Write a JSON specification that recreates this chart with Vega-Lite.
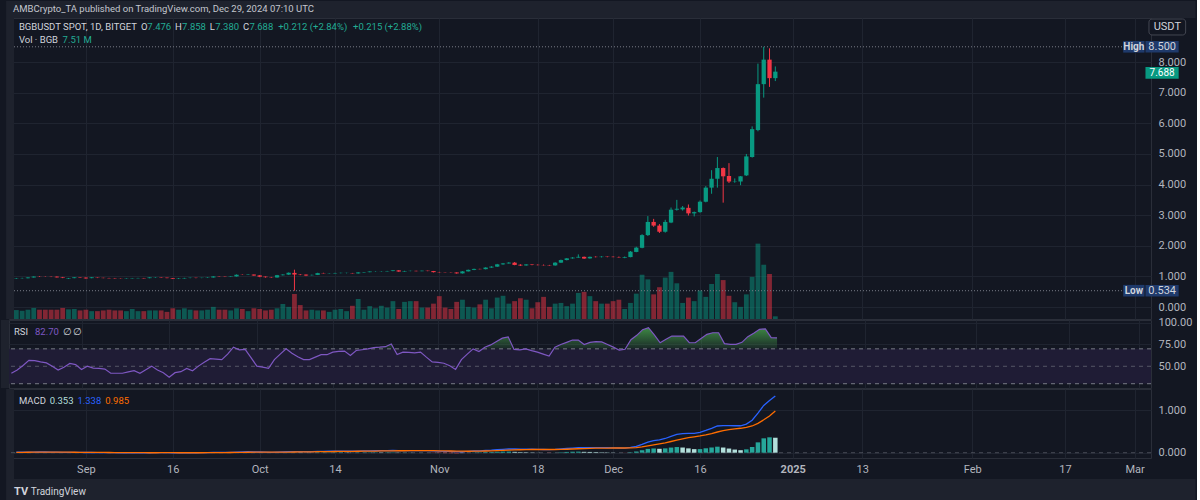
{
"$schema": "https://vega.github.io/schema/vega-lite/v6.json",
"background": "#131722",
"padding": 0,
"bounds": "flush",
"spacing": 1,
"config": {
  "font": "Roboto, sans-serif",
  "view": {"stroke": "#2a2e39", "strokeWidth": 1},
  "axis": {"labelColor": "#b2b5be", "labelFontSize": 11, "gridColor": "#1f2430", "gridOpacity": 1, "domain": false, "ticks": false, "labelOverlap": false}
},
"datasets": {
"bars": [
{"d":"2024-08-20","o":0.930,"h":0.950,"l":0.920,"c":0.940,"v":25,"rsi":42,"m":0.012,"s":0.010,"hist":0.002,"hc":"g"},
{"d":"2024-08-21","o":0.940,"h":0.958,"l":0.928,"c":0.945,"v":23,"rsi":45.7,"m":0.011,"s":0.010,"hist":0.001,"hc":"gl"},
{"d":"2024-08-22","o":0.942,"h":0.975,"l":0.936,"c":0.966,"v":26,"rsi":51,"m":0.012,"s":0.011,"hist":0.001,"hc":"g"},
{"d":"2024-08-23","o":0.966,"h":1.005,"l":0.960,"c":0.996,"v":31,"rsi":56.9,"m":0.015,"s":0.012,"hist":0.003,"hc":"g"},
{"d":"2024-08-24","o":0.998,"h":1.010,"l":0.985,"c":0.992,"v":26,"rsi":56.5,"m":0.016,"s":0.013,"hist":0.003,"hc":"g"},
{"d":"2024-08-25","o":0.992,"h":1.004,"l":0.984,"c":0.990,"v":26,"rsi":55,"m":0.016,"s":0.013,"hist":0.003,"hc":"g"},
{"d":"2024-08-26","o":0.991,"h":1.002,"l":0.979,"c":0.987,"v":26,"rsi":53.9,"m":0.015,"s":0.014,"hist":0.001,"hc":"gl"},
{"d":"2024-08-27","o":0.993,"h":1.004,"l":0.962,"c":0.970,"v":26,"rsi":50,"m":0.013,"s":0.014,"hist":-0.001,"hc":"r"},
{"d":"2024-08-28","o":0.972,"h":0.985,"l":0.944,"c":0.954,"v":31,"rsi":45.7,"m":0.010,"s":0.013,"hist":-0.003,"hc":"r"},
{"d":"2024-08-29","o":0.926,"h":0.950,"l":0.918,"c":0.942,"v":27,"rsi":49,"m":0.008,"s":0.012,"hist":-0.004,"hc":"r"},
{"d":"2024-08-30","o":0.945,"h":0.980,"l":0.940,"c":0.970,"v":28,"rsi":53.2,"m":0.008,"s":0.011,"hist":-0.003,"hc":"rl"},
{"d":"2024-08-31","o":0.968,"h":0.975,"l":0.950,"c":0.956,"v":24,"rsi":52,"m":0.007,"s":0.010,"hist":-0.003,"hc":"r"},
{"d":"2024-09-01","o":0.962,"h":0.970,"l":0.926,"c":0.936,"v":26,"rsi":46.4,"m":0.005,"s":0.009,"hist":-0.004,"hc":"r"},
{"d":"2024-09-02","o":0.945,"h":0.980,"l":0.940,"c":0.970,"v":22,"rsi":50.2,"m":0.005,"s":0.008,"hist":-0.003,"hc":"rl"},
{"d":"2024-09-03","o":0.962,"h":0.966,"l":0.946,"c":0.951,"v":22,"rsi":48,"m":0.004,"s":0.007,"hist":-0.003,"hc":"r"},
{"d":"2024-09-04","o":0.955,"h":0.960,"l":0.940,"c":0.946,"v":24,"rsi":47.5,"m":0.003,"s":0.006,"hist":-0.003,"hc":"r"},
{"d":"2024-09-05","o":0.948,"h":0.955,"l":0.935,"c":0.940,"v":26,"rsi":46.8,"m":0.002,"s":0.005,"hist":-0.003,"hc":"r"},
{"d":"2024-09-06","o":0.940,"h":0.950,"l":0.925,"c":0.932,"v":24,"rsi":42,"m":0.000,"s":0.004,"hist":-0.004,"hc":"r"},
{"d":"2024-09-07","o":0.935,"h":0.942,"l":0.925,"c":0.930,"v":24,"rsi":42,"m":-0.002,"s":0.003,"hist":-0.005,"hc":"r"},
{"d":"2024-09-08","o":0.930,"h":0.945,"l":0.925,"c":0.938,"v":22,"rsi":42,"m":-0.003,"s":0.002,"hist":-0.005,"hc":"r"},
{"d":"2024-09-09","o":0.935,"h":0.950,"l":0.930,"c":0.944,"v":28,"rsi":43.5,"m":-0.003,"s":0.001,"hist":-0.004,"hc":"rl"},
{"d":"2024-09-10","o":0.942,"h":0.955,"l":0.935,"c":0.949,"v":22,"rsi":44.9,"m":-0.002,"s":0.000,"hist":-0.002,"hc":"rl"},
{"d":"2024-09-11","o":0.948,"h":0.952,"l":0.930,"c":0.938,"v":22,"rsi":42,"m":-0.003,"s":0.000,"hist":-0.003,"hc":"r"},
{"d":"2024-09-12","o":0.945,"h":0.975,"l":0.940,"c":0.968,"v":24,"rsi":46,"m":-0.001,"s":-0.001,"hist":0.000,"hc":"g"},
{"d":"2024-09-13","o":0.965,"h":0.980,"l":0.955,"c":0.972,"v":24,"rsi":50.2,"m":0.001,"s":-0.001,"hist":0.002,"hc":"g"},
{"d":"2024-09-14","o":0.972,"h":0.978,"l":0.955,"c":0.962,"v":24,"rsi":45.7,"m":0.002,"s":0.000,"hist":0.002,"hc":"g"},
{"d":"2024-09-15","o":0.960,"h":0.965,"l":0.940,"c":0.946,"v":20,"rsi":42.7,"m":0.001,"s":0.000,"hist":0.001,"hc":"gl"},
{"d":"2024-09-16","o":0.946,"h":0.950,"l":0.915,"c":0.925,"v":30,"rsi":37.5,"m":-0.002,"s":0.000,"hist":-0.002,"hc":"r"},
{"d":"2024-09-17","o":0.925,"h":0.945,"l":0.915,"c":0.936,"v":26,"rsi":42.7,"m":-0.003,"s":-0.001,"hist":-0.002,"hc":"r"},
{"d":"2024-09-18","o":0.936,"h":0.955,"l":0.925,"c":0.950,"v":30,"rsi":43.8,"m":-0.002,"s":-0.001,"hist":-0.001,"hc":"rl"},
{"d":"2024-09-19","o":0.948,"h":0.965,"l":0.940,"c":0.956,"v":26,"rsi":47.6,"m":-0.001,"s":-0.001,"hist":0.000,"hc":"g"},
{"d":"2024-09-20","o":0.956,"h":0.962,"l":0.940,"c":0.948,"v":24,"rsi":44.9,"m":-0.001,"s":-0.001,"hist":0.000,"hc":"g"},
{"d":"2024-09-21","o":0.948,"h":0.960,"l":0.942,"c":0.956,"v":24,"rsi":50.2,"m":0.000,"s":-0.001,"hist":0.001,"hc":"g"},
{"d":"2024-09-22","o":0.956,"h":0.972,"l":0.948,"c":0.966,"v":26,"rsi":54.5,"m":0.002,"s":0.000,"hist":0.002,"hc":"g"},
{"d":"2024-09-23","o":0.966,"h":1.010,"l":0.960,"c":1.000,"v":34,"rsi":58.8,"m":0.006,"s":0.001,"hist":0.005,"hc":"g"},
{"d":"2024-09-24","o":1.001,"h":1.012,"l":0.990,"c":0.995,"v":26,"rsi":58.2,"m":0.008,"s":0.002,"hist":0.006,"hc":"g"},
{"d":"2024-09-25","o":0.995,"h":1.000,"l":0.980,"c":0.988,"v":26,"rsi":57.7,"m":0.009,"s":0.003,"hist":0.006,"hc":"g"},
{"d":"2024-09-26","o":0.988,"h":1.005,"l":0.980,"c":1.000,"v":24,"rsi":64,"m":0.010,"s":0.005,"hist":0.005,"hc":"gl"},
{"d":"2024-09-27","o":1.000,"h":1.065,"l":0.995,"c":1.055,"v":30,"rsi":71.9,"m":0.015,"s":0.007,"hist":0.008,"hc":"g"},
{"d":"2024-09-28","o":1.060,"h":1.070,"l":1.050,"c":1.056,"v":28,"rsi":68.9,"m":0.019,"s":0.009,"hist":0.010,"hc":"g"},
{"d":"2024-09-29","o":1.056,"h":1.075,"l":1.050,"c":1.066,"v":22,"rsi":69.3,"m":0.022,"s":0.011,"hist":0.011,"hc":"g"},
{"d":"2024-09-30","o":1.062,"h":1.066,"l":1.020,"c":1.030,"v":30,"rsi":60,"m":0.021,"s":0.013,"hist":0.008,"hc":"gl"},
{"d":"2024-10-01","o":1.035,"h":1.045,"l":0.975,"c":0.990,"v":28,"rsi":50.2,"m":0.017,"s":0.014,"hist":0.003,"hc":"gl"},
{"d":"2024-10-02","o":0.995,"h":1.000,"l":0.960,"c":0.975,"v":24,"rsi":49,"m":0.013,"s":0.014,"hist":-0.001,"hc":"r"},
{"d":"2024-10-03","o":0.975,"h":0.985,"l":0.955,"c":0.966,"v":26,"rsi":47.6,"m":0.009,"s":0.013,"hist":-0.004,"hc":"r"},
{"d":"2024-10-04","o":0.966,"h":1.050,"l":0.960,"c":1.040,"v":30,"rsi":57.7,"m":0.012,"s":0.013,"hist":-0.001,"hc":"rl"},
{"d":"2024-10-05","o":1.040,"h":1.075,"l":1.030,"c":1.060,"v":42,"rsi":64,"m":0.016,"s":0.013,"hist":0.003,"hc":"g"},
{"d":"2024-10-06","o":1.060,"h":1.130,"l":1.050,"c":1.120,"v":34,"rsi":70,"m":0.023,"s":0.015,"hist":0.008,"hc":"g"},
{"d":"2024-10-07","o":1.115,"h":1.220,"l":0.534,"c":1.062,"v":70,"rsi":65,"m":0.025,"s":0.017,"hist":0.008,"hc":"g"},
{"d":"2024-10-08","o":1.066,"h":1.080,"l":1.040,"c":1.056,"v":39,"rsi":61,"m":0.026,"s":0.019,"hist":0.007,"hc":"gl"},
{"d":"2024-10-09","o":1.060,"h":1.066,"l":1.010,"c":1.030,"v":24,"rsi":57.7,"m":0.025,"s":0.020,"hist":0.005,"hc":"gl"},
{"d":"2024-10-10","o":1.040,"h":1.060,"l":1.030,"c":1.050,"v":26,"rsi":57.7,"m":0.025,"s":0.021,"hist":0.004,"hc":"gl"},
{"d":"2024-10-11","o":1.050,"h":1.120,"l":1.045,"c":1.108,"v":24,"rsi":60.5,"m":0.030,"s":0.023,"hist":0.007,"hc":"g"},
{"d":"2024-10-12","o":1.110,"h":1.120,"l":1.095,"c":1.100,"v":24,"rsi":63.3,"m":0.032,"s":0.025,"hist":0.007,"hc":"g"},
{"d":"2024-10-13","o":1.098,"h":1.110,"l":1.090,"c":1.103,"v":20,"rsi":63.3,"m":0.034,"s":0.027,"hist":0.007,"hc":"g"},
{"d":"2024-10-14","o":1.100,"h":1.120,"l":1.095,"c":1.112,"v":26,"rsi":66.3,"m":0.036,"s":0.028,"hist":0.008,"hc":"g"},
{"d":"2024-10-15","o":1.110,"h":1.125,"l":1.100,"c":1.116,"v":28,"rsi":67,"m":0.038,"s":0.030,"hist":0.008,"hc":"g"},
{"d":"2024-10-16","o":1.112,"h":1.122,"l":1.100,"c":1.116,"v":22,"rsi":67.4,"m":0.038,"s":0.032,"hist":0.006,"hc":"gl"},
{"d":"2024-10-17","o":1.110,"h":1.115,"l":1.095,"c":1.100,"v":37,"rsi":62.5,"m":0.037,"s":0.033,"hist":0.004,"hc":"gl"},
{"d":"2024-10-18","o":1.100,"h":1.142,"l":1.090,"c":1.130,"v":56,"rsi":68.1,"m":0.039,"s":0.034,"hist":0.005,"hc":"g"},
{"d":"2024-10-19","o":1.130,"h":1.145,"l":1.120,"c":1.140,"v":26,"rsi":69,"m":0.041,"s":0.036,"hist":0.005,"hc":"g"},
{"d":"2024-10-20","o":1.140,"h":1.165,"l":1.135,"c":1.160,"v":36,"rsi":70,"m":0.044,"s":0.037,"hist":0.007,"hc":"g"},
{"d":"2024-10-21","o":1.160,"h":1.170,"l":1.150,"c":1.163,"v":30,"rsi":71.5,"m":0.046,"s":0.039,"hist":0.007,"hc":"g"},
{"d":"2024-10-22","o":1.162,"h":1.172,"l":1.152,"c":1.166,"v":37,"rsi":71.9,"m":0.047,"s":0.041,"hist":0.006,"hc":"gl"},
{"d":"2024-10-23","o":1.166,"h":1.182,"l":1.160,"c":1.176,"v":32,"rsi":72.5,"m":0.049,"s":0.042,"hist":0.007,"hc":"g"},
{"d":"2024-10-24","o":1.176,"h":1.205,"l":1.170,"c":1.198,"v":50,"rsi":75.6,"m":0.052,"s":0.044,"hist":0.008,"hc":"g"},
{"d":"2024-10-25","o":1.198,"h":1.205,"l":1.150,"c":1.160,"v":28,"rsi":63.6,"m":0.050,"s":0.046,"hist":0.004,"hc":"gl"},
{"d":"2024-10-26","o":1.160,"h":1.185,"l":1.155,"c":1.176,"v":48,"rsi":66.3,"m":0.050,"s":0.046,"hist":0.004,"hc":"g"},
{"d":"2024-10-27","o":1.176,"h":1.190,"l":1.168,"c":1.182,"v":50,"rsi":66,"m":0.050,"s":0.047,"hist":0.003,"hc":"gl"},
{"d":"2024-10-28","o":1.182,"h":1.188,"l":1.165,"c":1.172,"v":50,"rsi":65.5,"m":0.049,"s":0.048,"hist":0.001,"hc":"gl"},
{"d":"2024-10-29","o":1.172,"h":1.192,"l":1.168,"c":1.186,"v":32,"rsi":66.3,"m":0.049,"s":0.048,"hist":0.001,"hc":"g"},
{"d":"2024-10-30","o":1.186,"h":1.192,"l":1.170,"c":1.176,"v":32,"rsi":60.5,"m":0.047,"s":0.048,"hist":-0.001,"hc":"r"},
{"d":"2024-10-31","o":1.176,"h":1.180,"l":1.130,"c":1.140,"v":43,"rsi":55,"m":0.042,"s":0.047,"hist":-0.005,"hc":"r"},
{"d":"2024-11-01","o":1.140,"h":1.150,"l":1.125,"c":1.133,"v":64,"rsi":54.5,"m":0.037,"s":0.045,"hist":-0.008,"hc":"r"},
{"d":"2024-11-02","o":1.135,"h":1.140,"l":1.125,"c":1.130,"v":32,"rsi":53.5,"m":0.033,"s":0.043,"hist":-0.010,"hc":"r"},
{"d":"2024-11-03","o":1.132,"h":1.138,"l":1.120,"c":1.128,"v":28,"rsi":50.6,"m":0.029,"s":0.040,"hist":-0.011,"hc":"r"},
{"d":"2024-11-04","o":1.130,"h":1.135,"l":1.090,"c":1.100,"v":48,"rsi":46.4,"m":0.023,"s":0.037,"hist":-0.014,"hc":"r"},
{"d":"2024-11-05","o":1.100,"h":1.175,"l":1.095,"c":1.165,"v":54,"rsi":57.7,"m":0.026,"s":0.035,"hist":-0.009,"hc":"rl"},
{"d":"2024-11-06","o":1.165,"h":1.225,"l":1.160,"c":1.215,"v":34,"rsi":64,"m":0.033,"s":0.034,"hist":-0.001,"hc":"rl"},
{"d":"2024-11-07","o":1.215,"h":1.255,"l":1.205,"c":1.245,"v":32,"rsi":70,"m":0.040,"s":0.035,"hist":0.005,"hc":"g"},
{"d":"2024-11-08","o":1.245,"h":1.252,"l":1.230,"c":1.238,"v":41,"rsi":67,"m":0.045,"s":0.037,"hist":0.008,"hc":"g"},
{"d":"2024-11-09","o":1.238,"h":1.300,"l":1.230,"c":1.290,"v":54,"rsi":71.9,"m":0.052,"s":0.040,"hist":0.012,"hc":"g"},
{"d":"2024-11-10","o":1.290,"h":1.335,"l":1.280,"c":1.320,"v":30,"rsi":74.5,"m":0.059,"s":0.044,"hist":0.015,"hc":"g"},
{"d":"2024-11-11","o":1.320,"h":1.410,"l":1.310,"c":1.395,"v":60,"rsi":78.5,"m":0.070,"s":0.049,"hist":0.021,"hc":"g"},
{"d":"2024-11-12","o":1.395,"h":1.440,"l":1.380,"c":1.425,"v":65,"rsi":82.3,"m":0.080,"s":0.055,"hist":0.025,"hc":"g"},
{"d":"2024-11-13","o":1.425,"h":1.470,"l":1.415,"c":1.450,"v":43,"rsi":83.8,"m":0.088,"s":0.062,"hist":0.026,"hc":"g"},
{"d":"2024-11-14","o":1.450,"h":1.470,"l":1.365,"c":1.375,"v":50,"rsi":69.3,"m":0.087,"s":0.067,"hist":0.020,"hc":"gl"},
{"d":"2024-11-15","o":1.380,"h":1.400,"l":1.340,"c":1.360,"v":58,"rsi":68.9,"m":0.084,"s":0.070,"hist":0.014,"hc":"gl"},
{"d":"2024-11-16","o":1.360,"h":1.400,"l":1.350,"c":1.392,"v":54,"rsi":70,"m":0.083,"s":0.073,"hist":0.010,"hc":"gl"},
{"d":"2024-11-17","o":1.390,"h":1.400,"l":1.365,"c":1.375,"v":30,"rsi":68,"m":0.081,"s":0.075,"hist":0.006,"hc":"gl"},
{"d":"2024-11-18","o":1.378,"h":1.395,"l":1.360,"c":1.370,"v":47,"rsi":66.3,"m":0.078,"s":0.075,"hist":0.003,"hc":"gl"},
{"d":"2024-11-19","o":1.372,"h":1.390,"l":1.355,"c":1.365,"v":62,"rsi":64,"m":0.075,"s":0.075,"hist":0.000,"hc":"gl"},
{"d":"2024-11-20","o":1.368,"h":1.378,"l":1.350,"c":1.358,"v":34,"rsi":61.8,"m":0.072,"s":0.075,"hist":-0.003,"hc":"r"},
{"d":"2024-11-21","o":1.360,"h":1.465,"l":1.350,"c":1.450,"v":43,"rsi":71.9,"m":0.077,"s":0.075,"hist":0.002,"hc":"g"},
{"d":"2024-11-22","o":1.450,"h":1.550,"l":1.440,"c":1.535,"v":45,"rsi":75,"m":0.087,"s":0.077,"hist":0.010,"hc":"g"},
{"d":"2024-11-23","o":1.535,"h":1.600,"l":1.525,"c":1.590,"v":36,"rsi":77.5,"m":0.099,"s":0.081,"hist":0.018,"hc":"g"},
{"d":"2024-11-24","o":1.590,"h":1.630,"l":1.580,"c":1.615,"v":43,"rsi":80.1,"m":0.110,"s":0.087,"hist":0.023,"hc":"g"},
{"d":"2024-11-25","o":1.615,"h":1.720,"l":1.610,"c":1.640,"v":73,"rsi":80.1,"m":0.118,"s":0.093,"hist":0.025,"hc":"g"},
{"d":"2024-11-26","o":1.640,"h":1.650,"l":1.570,"c":1.585,"v":76,"rsi":74.9,"m":0.118,"s":0.098,"hist":0.020,"hc":"gl"},
{"d":"2024-11-27","o":1.590,"h":1.650,"l":1.580,"c":1.640,"v":64,"rsi":77.5,"m":0.120,"s":0.102,"hist":0.018,"hc":"gl"},
{"d":"2024-11-28","o":1.640,"h":1.660,"l":1.620,"c":1.632,"v":50,"rsi":78.2,"m":0.120,"s":0.106,"hist":0.014,"hc":"gl"},
{"d":"2024-11-29","o":1.632,"h":1.660,"l":1.620,"c":1.645,"v":43,"rsi":78,"m":0.119,"s":0.109,"hist":0.010,"hc":"gl"},
{"d":"2024-11-30","o":1.645,"h":1.655,"l":1.625,"c":1.635,"v":43,"rsi":75,"m":0.117,"s":0.110,"hist":0.007,"hc":"gl"},
{"d":"2024-12-01","o":1.640,"h":1.660,"l":1.625,"c":1.632,"v":50,"rsi":72,"m":0.114,"s":0.111,"hist":0.003,"hc":"gl"},
{"d":"2024-12-02","o":1.635,"h":1.650,"l":1.610,"c":1.625,"v":54,"rsi":68.5,"m":0.111,"s":0.111,"hist":0.000,"hc":"gl"},
{"d":"2024-12-03","o":1.610,"h":1.650,"l":1.595,"c":1.632,"v":28,"rsi":69.5,"m":0.109,"s":0.111,"hist":-0.002,"hc":"r"},
{"d":"2024-12-04","o":1.632,"h":1.830,"l":1.625,"c":1.810,"v":45,"rsi":80.5,"m":0.125,"s":0.115,"hist":0.010,"hc":"g"},
{"d":"2024-12-05","o":1.800,"h":1.970,"l":1.790,"c":1.940,"v":71,"rsi":85.5,"m":0.150,"s":0.122,"hist":0.028,"hc":"g"},
{"d":"2024-12-06","o":1.935,"h":2.380,"l":1.920,"c":2.350,"v":124,"rsi":92,"m":0.195,"s":0.137,"hist":0.058,"hc":"g"},
{"d":"2024-12-07","o":2.350,"h":2.970,"l":2.320,"c":2.780,"v":111,"rsi":94.3,"m":0.250,"s":0.160,"hist":0.090,"hc":"g"},
{"d":"2024-12-08","o":2.780,"h":2.880,"l":2.620,"c":2.660,"v":69,"rsi":86,"m":0.285,"s":0.185,"hist":0.100,"hc":"g"},
{"d":"2024-12-09","o":2.660,"h":2.710,"l":2.420,"c":2.460,"v":89,"rsi":77,"m":0.300,"s":0.208,"hist":0.092,"hc":"gl"},
{"d":"2024-12-10","o":2.460,"h":2.850,"l":2.430,"c":2.780,"v":116,"rsi":81,"m":0.335,"s":0.233,"hist":0.102,"hc":"g"},
{"d":"2024-12-11","o":2.760,"h":3.250,"l":2.740,"c":3.180,"v":132,"rsi":84.7,"m":0.385,"s":0.264,"hist":0.121,"hc":"g"},
{"d":"2024-12-12","o":3.180,"h":3.500,"l":3.150,"c":3.210,"v":100,"rsi":84.7,"m":0.430,"s":0.297,"hist":0.133,"hc":"g"},
{"d":"2024-12-13","o":3.190,"h":3.300,"l":3.150,"c":3.250,"v":45,"rsi":84.5,"m":0.450,"s":0.328,"hist":0.122,"hc":"gl"},
{"d":"2024-12-14","o":3.240,"h":3.350,"l":2.990,"c":3.060,"v":60,"rsi":77,"m":0.455,"s":0.353,"hist":0.102,"hc":"gl"},
{"d":"2024-12-15","o":3.060,"h":3.120,"l":2.960,"c":3.100,"v":50,"rsi":77,"m":0.458,"s":0.374,"hist":0.084,"hc":"gl"},
{"d":"2024-12-16","o":3.100,"h":3.480,"l":3.080,"c":3.440,"v":80,"rsi":82,"m":0.480,"s":0.395,"hist":0.085,"hc":"g"},
{"d":"2024-12-17","o":3.440,"h":3.950,"l":3.420,"c":3.900,"v":62,"rsi":86.7,"m":0.525,"s":0.421,"hist":0.104,"hc":"g"},
{"d":"2024-12-18","o":3.900,"h":4.470,"l":3.700,"c":4.190,"v":98,"rsi":88.5,"m":0.575,"s":0.452,"hist":0.123,"hc":"g"},
{"d":"2024-12-19","o":4.190,"h":4.900,"l":3.900,"c":4.540,"v":126,"rsi":88.5,"m":0.630,"s":0.488,"hist":0.142,"hc":"g"},
{"d":"2024-12-20","o":4.540,"h":4.560,"l":3.410,"c":4.270,"v":109,"rsi":76,"m":0.640,"s":0.518,"hist":0.122,"hc":"gl"},
{"d":"2024-12-21","o":4.280,"h":4.700,"l":4.050,"c":4.100,"v":65,"rsi":75.2,"m":0.640,"s":0.542,"hist":0.098,"hc":"gl"},
{"d":"2024-12-22","o":4.100,"h":4.200,"l":4.060,"c":4.110,"v":47,"rsi":75.2,"m":0.635,"s":0.561,"hist":0.074,"hc":"gl"},
{"d":"2024-12-23","o":4.100,"h":4.280,"l":3.980,"c":4.270,"v":34,"rsi":77.5,"m":0.635,"s":0.576,"hist":0.059,"hc":"gl"},
{"d":"2024-12-24","o":4.300,"h":5.000,"l":4.280,"c":4.920,"v":69,"rsi":84,"m":0.675,"s":0.596,"hist":0.079,"hc":"g"},
{"d":"2024-12-25","o":4.900,"h":5.900,"l":4.880,"c":5.810,"v":118,"rsi":88,"m":0.765,"s":0.630,"hist":0.135,"hc":"g"},
{"d":"2024-12-26","o":5.780,"h":7.950,"l":5.740,"c":7.280,"v":211,"rsi":92.4,"m":0.935,"s":0.691,"hist":0.244,"hc":"g"},
{"d":"2024-12-27","o":7.280,"h":8.500,"l":6.840,"c":8.080,"v":152,"rsi":93,"m":1.115,"s":0.776,"hist":0.339,"hc":"g"},
{"d":"2024-12-28","o":8.080,"h":8.450,"l":7.190,"c":7.476,"v":126,"rsi":82.8,"m":1.230,"s":0.867,"hist":0.363,"hc":"g"},
{"d":"2024-12-29","o":7.476,"h":7.858,"l":7.380,"c":7.688,"v":7.51,"rsi":82.7,"m":1.338,"s":0.985,"hist":0.353,"hc":"gl"}
]
},
"vconcat": [
{
  "width": 1142, "height": 301,
  "resolve": {"scale": {"y": "independent"}},
  "layer": [
    {
      "data": {"name": "bars"},
      "mark": {"type": "bar", "size": 4.8, "opacity": 0.5},
      "encoding": {
        "x": {"field": "d", "type": "temporal", "scale": {"type": "utc", "nice": false, "domain": [{"year":2024,"month":8,"date":19,"hours":14,"minutes":18,"utc":true},{"year":2025,"month":3,"date":2,"hours":23,"minutes":30,"utc":true}]}, "axis": {"values": [{"year":2024,"month":9,"date":1,"utc":true},{"year":2024,"month":9,"date":16,"utc":true},{"year":2024,"month":10,"date":1,"utc":true},{"year":2024,"month":10,"date":14,"utc":true},{"year":2024,"month":11,"date":1,"utc":true},{"year":2024,"month":11,"date":18,"utc":true},{"year":2024,"month":12,"date":1,"utc":true},{"year":2024,"month":12,"date":16,"utc":true},{"year":2025,"month":1,"date":1,"utc":true},{"year":2025,"month":1,"date":13,"utc":true},{"year":2025,"month":2,"date":1,"utc":true},{"year":2025,"month":2,"date":17,"utc":true},{"year":2025,"month":3,"date":1,"utc":true}], "tickCount": 100, "labels": false, "grid": true, "title": null}},
        "y": {"field": "v", "type": "quantitative", "scale": {"domain": [0, 843], "nice": false, "zero": false}, "axis": null},
        "color": {"condition": {"test": "datum.c >= datum.o", "value": "#089981"}, "value": "#f23645"}
      }
    },
    {
      "layer": [
        {"data": {"values": [{}]}, "mark": {"type": "rect", "color": "#1e222d"},
         "encoding": {"x": {"datum": {"year":2024,"month":8,"date":18,"hours":5,"minutes":30,"utc":true}, "type": "temporal"}, "x2": {"datum": {"year":2025,"month":3,"date":11,"hours":12,"minutes":45,"utc":true}}, "y": {"datum": 9.995}, "y2": {"datum": 9.44}}},
        {"data": {"values": [{}]}, "mark": {"type": "rect", "color": "#1e222d"},
         "encoding": {"x": {"datum": {"year":2024,"month":8,"date":18,"hours":5,"minutes":30,"utc":true}, "type": "temporal"}, "x2": {"datum": {"year":2024,"month":8,"date":19,"hours":14,"minutes":18,"utc":true}}, "y": {"datum": 9.44}, "y2": {"datum": -0.39}}},
        {"data": {"values": [{}]}, "mark": {"type": "rule", "color": "#787b86", "strokeDash": [1, 2], "strokeWidth": 1},
         "encoding": {"x": {"datum": {"year":2024,"month":8,"date":19,"hours":14,"minutes":18,"utc":true}, "type": "temporal"}, "x2": {"datum": {"year":2025,"month":2,"date":27,"hours":1,"utc":true}}, "y": {"datum": 8.5}}},
        {"data": {"values": [{}]}, "mark": {"type": "rule", "color": "#787b86", "strokeDash": [1, 2], "strokeWidth": 1},
         "encoding": {"x": {"datum": {"year":2024,"month":8,"date":19,"hours":14,"minutes":18,"utc":true}, "type": "temporal"}, "x2": {"datum": {"year":2025,"month":2,"date":27,"hours":1,"utc":true}}, "y": {"datum": 0.534}}},
        {
          "data": {"name": "bars"},
          "mark": {"type": "rule", "strokeWidth": 1},
          "encoding": {
            "x": {"field": "d", "type": "temporal", "scale": {"type": "utc", "nice": false, "domain": [{"year":2024,"month":8,"date":19,"hours":14,"minutes":18,"utc":true},{"year":2025,"month":3,"date":2,"hours":23,"minutes":30,"utc":true}]}, "axis": {"values": [{"year":2024,"month":9,"date":1,"utc":true},{"year":2024,"month":9,"date":16,"utc":true},{"year":2024,"month":10,"date":1,"utc":true},{"year":2024,"month":10,"date":14,"utc":true},{"year":2024,"month":11,"date":1,"utc":true},{"year":2024,"month":11,"date":18,"utc":true},{"year":2024,"month":12,"date":1,"utc":true},{"year":2024,"month":12,"date":16,"utc":true},{"year":2025,"month":1,"date":1,"utc":true},{"year":2025,"month":1,"date":13,"utc":true},{"year":2025,"month":2,"date":1,"utc":true},{"year":2025,"month":2,"date":17,"utc":true},{"year":2025,"month":3,"date":1,"utc":true}], "tickCount": 100, "labels": false, "grid": true, "title": null}},
            "y": {"field": "l", "type": "quantitative", "scale": {"domain": [-0.39, 9.44], "nice": false, "zero": false}, "axis": {"orient": "right", "values": [0,1,2,3,4,5,6,7,8], "tickCount": 100, "format": ".3f", "grid": true, "labelPadding": 7, "labelOverlap": false, "title": null}},
            "y2": {"field": "h"},
            "color": {"condition": {"test": "datum.c >= datum.o", "value": "#089981"}, "value": "#f23645"}
          }
        },
        {
          "data": {"name": "bars"},
          "mark": {"type": "bar", "size": 4.3},
          "encoding": {
            "x": {"field": "d", "type": "temporal"},
            "y": {"field": "o", "type": "quantitative"},
            "y2": {"field": "c"},
            "color": {"condition": {"test": "datum.c >= datum.o", "value": "#089981"}, "value": "#f23645"}
          }
        },
        {"data": {"values": [{}]}, "mark": {"type": "rect", "color": "#1f3a6b"},
         "encoding": {"x": {"datum": {"year":2025,"month":2,"date":27,"hours":1,"utc":true}, "type": "temporal"}, "x2": {"datum": {"year":2025,"month":3,"date":2,"hours":17,"minutes":15,"utc":true}}, "y": {"datum": 8.69}, "y2": {"datum": 8.31}}},
        {"data": {"values": [{}]}, "mark": {"type": "rect", "color": "#1f3a6b"},
         "encoding": {"x": {"datum": {"year":2025,"month":3,"date":2,"hours":21,"minutes":20,"utc":true}, "type": "temporal"}, "x2": {"datum": {"year":2025,"month":3,"date":8,"hours":14,"minutes":50,"utc":true}}, "y": {"datum": 8.69}, "y2": {"datum": 8.31}}},
        {"data": {"values": [{}]}, "mark": {"type": "rect", "color": "#1f3a6b"},
         "encoding": {"x": {"datum": {"year":2025,"month":2,"date":27,"hours":1,"utc":true}, "type": "temporal"}, "x2": {"datum": {"year":2025,"month":3,"date":2,"hours":17,"minutes":15,"utc":true}}, "y": {"datum": 0.724}, "y2": {"datum": 0.344}}},
        {"data": {"values": [{}]}, "mark": {"type": "rect", "color": "#1f3a6b"},
         "encoding": {"x": {"datum": {"year":2025,"month":3,"date":2,"hours":21,"minutes":20,"utc":true}, "type": "temporal"}, "x2": {"datum": {"year":2025,"month":3,"date":8,"hours":14,"minutes":50,"utc":true}}, "y": {"datum": 0.724}, "y2": {"datum": 0.344}}},
        {"data": {"values": [{}]}, "mark": {"type": "rect", "color": "#089981"},
         "encoding": {"x": {"datum": {"year":2025,"month":3,"date":2,"hours":21,"minutes":20,"utc":true}, "type": "temporal"}, "x2": {"datum": {"year":2025,"month":3,"date":8,"hours":14,"minutes":50,"utc":true}}, "y": {"datum": 7.84}, "y2": {"datum": 7.46}}},
        {"data": {"values": [{}]}, "mark": {"type": "rect", "fill": "#131722", "stroke": "#434651", "strokeWidth": 1, "cornerRadius": 3},
         "encoding": {"x": {"datum": {"year":2025,"month":3,"date":3,"hours":11,"minutes":45,"utc":true}, "type": "temporal"}, "x2": {"datum": {"year":2025,"month":3,"date":9,"hours":19,"minutes":40,"utc":true}}, "y": {"datum": 9.407}, "y2": {"datum": 8.885}}},
        {"data": {"values": [{}]}, "mark": {"type": "text", "text": "USDT", "color": "#d1d4dc", "fontSize": 11, "align": "center", "baseline": "middle"},
         "encoding": {"x": {"datum": {"year":2025,"month":3,"date":6,"hours":15,"minutes":50,"utc":true}, "type": "temporal"}, "y": {"datum": 9.146}}},
        {"data": {"values": [{}]}, "mark": {"type": "text", "text": "High", "color": "#d1d4dc", "fontSize": 10, "fontWeight": "bold", "align": "center", "baseline": "middle"},
         "encoding": {"x": {"datum": {"year":2025,"month":2,"date":28,"hours":21,"minutes":20,"utc":true}, "type": "temporal"}, "y": {"datum": 8.5}}},
        {"data": {"values": [{}]}, "mark": {"type": "text", "text": "8.500", "color": "#d1d4dc", "fontSize": 11, "align": "center", "baseline": "middle"},
         "encoding": {"x": {"datum": {"year":2025,"month":3,"date":5,"hours":18,"minutes":30,"utc":true}, "type": "temporal"}, "y": {"datum": 8.5}}},
        {"data": {"values": [{}]}, "mark": {"type": "text", "text": "Low", "color": "#d1d4dc", "fontSize": 10, "fontWeight": "bold", "align": "center", "baseline": "middle"},
         "encoding": {"x": {"datum": {"year":2025,"month":2,"date":28,"hours":21,"minutes":20,"utc":true}, "type": "temporal"}, "y": {"datum": 0.534}}},
        {"data": {"values": [{}]}, "mark": {"type": "text", "text": "0.534", "color": "#d1d4dc", "fontSize": 11, "align": "center", "baseline": "middle"},
         "encoding": {"x": {"datum": {"year":2025,"month":3,"date":5,"hours":18,"minutes":30,"utc":true}, "type": "temporal"}, "y": {"datum": 0.534}}},
        {"data": {"values": [{}]}, "mark": {"type": "text", "text": "7.688", "color": "#ffffff", "fontSize": 10, "align": "center", "baseline": "middle"},
         "encoding": {"x": {"datum": {"year":2025,"month":3,"date":5,"hours":18,"minutes":30,"utc":true}, "type": "temporal"}, "y": {"datum": 7.65}}},
        {"data": {"values": [{}]}, "mark": {"type": "text", "text": "AMBCrypto_TA published on TradingView.com, Dec 29, 2024 07:10 UTC", "color": "#c3c6ce", "fontSize": 9.5, "align": "left", "baseline": "middle"},
         "encoding": {"x": {"datum": {"year":2024,"month":8,"date":19,"hours":10,"minutes":18,"utc":true}, "type": "temporal"}, "y": {"datum": 9.734}}},
        {"data": {"values": [{}]}, "mark": {"type": "text", "text": "BGBUSDT SPOT, 1D, BITGET", "color": "#d1d4dc", "fontSize": 9.5, "align": "left", "baseline": "middle"},
         "encoding": {"x": {"datum": {"year":2024,"month":8,"date":20,"hours":10,"minutes":48,"utc":true}, "type": "temporal"}, "y": {"datum": 9.146}}},
        {"data": {"values": [{}]}, "mark": {"type": "text", "text": "O", "color": "#d1d4dc", "fontSize": 9.5, "align": "left", "baseline": "middle"},
         "encoding": {"x": {"datum": {"year":2024,"month":9,"date":10,"hours":12,"utc":true}, "type": "temporal"}, "y": {"datum": 9.146}}},
        {"data": {"values": [{}]}, "mark": {"type": "text", "text": "7.476", "color": "#22ab94", "fontSize": 9.5, "align": "left", "baseline": "middle"},
         "encoding": {"x": {"datum": {"year":2024,"month":9,"date":11,"hours":14,"minutes":38,"utc":true}, "type": "temporal"}, "y": {"datum": 9.146}}},
        {"data": {"values": [{}]}, "mark": {"type": "text", "text": "H", "color": "#d1d4dc", "fontSize": 9.5, "align": "left", "baseline": "middle"},
         "encoding": {"x": {"datum": {"year":2024,"month":9,"date":16,"hours":9,"minutes":36,"utc":true}, "type": "temporal"}, "y": {"datum": 9.146}}},
        {"data": {"values": [{}]}, "mark": {"type": "text", "text": "7.858", "color": "#22ab94", "fontSize": 9.5, "align": "left", "baseline": "middle"},
         "encoding": {"x": {"datum": {"year":2024,"month":9,"date":17,"hours":14,"minutes":24,"utc":true}, "type": "temporal"}, "y": {"datum": 9.146}}},
        {"data": {"values": [{}]}, "mark": {"type": "text", "text": "L", "color": "#d1d4dc", "fontSize": 9.5, "align": "left", "baseline": "middle"},
         "encoding": {"x": {"datum": {"year":2024,"month":9,"date":22,"hours":9,"minutes":22,"utc":true}, "type": "temporal"}, "y": {"datum": 9.146}}},
        {"data": {"values": [{}]}, "mark": {"type": "text", "text": "7.380", "color": "#22ab94", "fontSize": 9.5, "align": "left", "baseline": "middle"},
         "encoding": {"x": {"datum": {"year":2024,"month":9,"date":23,"hours":7,"minutes":55,"utc":true}, "type": "temporal"}, "y": {"datum": 9.146}}},
        {"data": {"values": [{}]}, "mark": {"type": "text", "text": "C", "color": "#d1d4dc", "fontSize": 9.5, "align": "left", "baseline": "middle"},
         "encoding": {"x": {"datum": {"year":2024,"month":9,"date":28,"hours":2,"minutes":53,"utc":true}, "type": "temporal"}, "y": {"datum": 9.146}}},
        {"data": {"values": [{}]}, "mark": {"type": "text", "text": "7.688", "color": "#22ab94", "fontSize": 9.5, "align": "left", "baseline": "middle"},
         "encoding": {"x": {"datum": {"year":2024,"month":9,"date":29,"hours":5,"minutes":31,"utc":true}, "type": "temporal"}, "y": {"datum": 9.146}}},
        {"data": {"values": [{}]}, "mark": {"type": "text", "text": "+0.212 (+2.84%)", "color": "#22ab94", "fontSize": 9.5, "align": "left", "baseline": "middle"},
         "encoding": {"x": {"datum": {"year":2024,"month":10,"date":4,"hours":4,"minutes":34,"utc":true}, "type": "temporal"}, "y": {"datum": 9.146}}},
        {"data": {"values": [{}]}, "mark": {"type": "text", "text": "+0.215 (+2.88%)", "color": "#22ab94", "fontSize": 9.5, "align": "left", "baseline": "middle"},
         "encoding": {"x": {"datum": {"year":2024,"month":10,"date":17,"hours":2,"minutes":38,"utc":true}, "type": "temporal"}, "y": {"datum": 9.146}}},
        {"data": {"values": [{}]}, "mark": {"type": "text", "text": "Vol · BGB", "color": "#d1d4dc", "fontSize": 9.5, "align": "left", "baseline": "middle"},
         "encoding": {"x": {"datum": {"year":2024,"month":8,"date":20,"hours":10,"minutes":48,"utc":true}, "type": "temporal"}, "y": {"datum": 8.72}}},
        {"data": {"values": [{}]}, "mark": {"type": "text", "text": "7.51 M", "color": "#22ab94", "fontSize": 9.5, "align": "left", "baseline": "middle"},
         "encoding": {"x": {"datum": {"year":2024,"month":8,"date":27,"hours":23,"minutes":30,"utc":true}, "type": "temporal"}, "y": {"datum": 8.72}}}
      ]
    }
  ]
},
{
  "width": 1142, "height": 68,
  "layer": [
    {"data": {"values": [{}]}, "mark": {"type": "rect", "color": "#1e222d"},
     "encoding": {"x": {"datum": {"year":2024,"month":8,"date":18,"hours":5,"minutes":30,"utc":true}, "type": "temporal"}, "x2": {"datum": {"year":2024,"month":8,"date":19,"hours":14,"minutes":18,"utc":true}}, "y": {"datum": 103.1}, "y2": {"datum": 25.1}}},
    {
      "data": {"name": "bars"},
      "mark": {"type": "area", "color": {"gradient": "linear", "x1": 0, "y1": 0, "x2": 0, "y2": 1, "stops": [{"offset": 0, "color": "rgba(76,175,80,0.75)"}, {"offset": 0.45, "color": "rgba(76,175,80,0.08)"}, {"offset": 1, "color": "rgba(76,175,80,0)"}]}},
      "encoding": {
        "x": {"field": "d", "type": "temporal", "scale": {"type": "utc", "nice": false, "domain": [{"year":2024,"month":8,"date":19,"hours":14,"minutes":18,"utc":true},{"year":2025,"month":3,"date":2,"hours":23,"minutes":30,"utc":true}]}, "axis": {"values": [{"year":2024,"month":9,"date":1,"utc":true},{"year":2024,"month":9,"date":16,"utc":true},{"year":2024,"month":10,"date":1,"utc":true},{"year":2024,"month":10,"date":14,"utc":true},{"year":2024,"month":11,"date":1,"utc":true},{"year":2024,"month":11,"date":18,"utc":true},{"year":2024,"month":12,"date":1,"utc":true},{"year":2024,"month":12,"date":16,"utc":true},{"year":2025,"month":1,"date":1,"utc":true},{"year":2025,"month":1,"date":13,"utc":true},{"year":2025,"month":2,"date":1,"utc":true},{"year":2025,"month":2,"date":17,"utc":true},{"year":2025,"month":3,"date":1,"utc":true}], "tickCount": 100, "labels": false, "grid": true, "title": null}},
        "y": {"field": "rsi", "type": "quantitative", "scale": {"domain": [25.1, 103.1], "nice": false, "zero": false}, "axis": {"orient": "right", "values": [50, 75, 100], "tickCount": 100, "format": ".2f", "grid": true, "labelPadding": 7, "labelOverlap": false, "title": null}},
        "y2": {"datum": 70}
      }
    },
    {"data": {"values": [{}]}, "mark": {"type": "rect", "color": "#1f1c35", "opacity": 1},
     "encoding": {"y": {"datum": 70}, "y2": {"datum": 30}}},
    {"data": {"values": [{}]}, "mark": {"type": "rule", "color": "#787b86", "strokeDash": [4, 4], "strokeWidth": 1},
     "encoding": {"y": {"datum": 70}}},
    {"data": {"values": [{}]}, "mark": {"type": "rule", "color": "#787b86", "strokeDash": [4, 4], "strokeWidth": 1, "opacity": 0.6},
     "encoding": {"y": {"datum": 50}}},
    {"data": {"values": [{}]}, "mark": {"type": "rule", "color": "#787b86", "strokeDash": [4, 4], "strokeWidth": 1},
     "encoding": {"y": {"datum": 30}}},
    {
      "data": {"name": "bars"},
      "mark": {"type": "line", "color": "#7e57c2", "strokeWidth": 1.2},
      "encoding": {
        "x": {"field": "d", "type": "temporal"},
        "y": {"field": "rsi", "type": "quantitative"}
      }
    },
    {"data": {"values": [{}]}, "mark": {"type": "text", "text": "RSI", "color": "#d1d4dc", "fontSize": 9.5, "align": "left", "baseline": "middle"},
     "encoding": {"x": {"datum": {"year":2024,"month":8,"date":20,"hours":10,"minutes":48,"utc":true}, "type": "temporal"}, "y": {"datum": 89.3}}},
    {"data": {"values": [{}]}, "mark": {"type": "text", "text": "82.70", "color": "#7e57c2", "fontSize": 9.5, "align": "left", "baseline": "middle"},
     "encoding": {"x": {"datum": {"year":2024,"month":8,"date":24,"hours":1,"utc":true}, "type": "temporal"}, "y": {"datum": 89.3}}},
    {"data": {"values": [{}]}, "mark": {"type": "text", "text": "∅", "color": "#d1d4dc", "fontSize": 9.5, "align": "left", "baseline": "middle"},
     "encoding": {"x": {"datum": {"year":2024,"month":8,"date":28,"hours":20,"utc":true}, "type": "temporal"}, "y": {"datum": 89.3}}},
    {"data": {"values": [{}]}, "mark": {"type": "text", "text": "∅", "color": "#d1d4dc", "fontSize": 9.5, "align": "left", "baseline": "middle"},
     "encoding": {"x": {"datum": {"year":2024,"month":8,"date":30,"hours":13,"minutes":6,"utc":true}, "type": "temporal"}, "y": {"datum": 89.3}}}
  ]
},
{
  "width": 1142, "height": 69,
  "layer": [
    {"data": {"values": [{}]}, "mark": {"type": "rect", "color": "#1e222d"},
     "encoding": {"x": {"datum": {"year":2024,"month":8,"date":18,"hours":5,"minutes":30,"utc":true}, "type": "temporal"}, "x2": {"datum": {"year":2024,"month":8,"date":19,"hours":14,"minutes":18,"utc":true}}, "y": {"datum": 1.502}, "y2": {"datum": -0.621}}},
    {"data": {"values": [{}]}, "mark": {"type": "rect", "color": "#1e222d"},
     "encoding": {"x": {"datum": {"year":2024,"month":8,"date":18,"hours":5,"minutes":30,"utc":true}, "type": "temporal"}, "x2": {"datum": {"year":2025,"month":3,"date":11,"hours":12,"minutes":45,"utc":true}}, "y": {"datum": -0.621}, "y2": {"datum": -1.14}}},
    {"data": {"values": [{}]}, "mark": {"type": "rule", "color": "#787b86", "strokeDash": [4, 4], "strokeWidth": 1, "opacity": 0.5},
     "encoding": {"y": {"datum": 0}}},
    {
      "data": {"name": "bars"},
      "mark": {"type": "bar", "size": 4.5},
      "encoding": {
        "x": {"field": "d", "type": "temporal", "scale": {"type": "utc", "nice": false, "domain": [{"year":2024,"month":8,"date":19,"hours":14,"minutes":18,"utc":true},{"year":2025,"month":3,"date":2,"hours":23,"minutes":30,"utc":true}]}, "axis": {"values": [{"year":2024,"month":9,"date":1,"utc":true},{"year":2024,"month":9,"date":16,"utc":true},{"year":2024,"month":10,"date":1,"utc":true},{"year":2024,"month":10,"date":14,"utc":true},{"year":2024,"month":11,"date":1,"utc":true},{"year":2024,"month":11,"date":18,"utc":true},{"year":2024,"month":12,"date":1,"utc":true},{"year":2024,"month":12,"date":16,"utc":true},{"year":2025,"month":1,"date":1,"utc":true},{"year":2025,"month":1,"date":13,"utc":true},{"year":2025,"month":2,"date":1,"utc":true},{"year":2025,"month":2,"date":17,"utc":true},{"year":2025,"month":3,"date":1,"utc":true}], "tickCount": 100, "grid": true, "title": null, "labelPadding": 5, "labelOverlap": false, "labelFlush": false, "labelExpr": "utcdate(datum.value) == 1 ? (utcmonth(datum.value) == 0 ? utcFormat(datum.value, '%Y') : utcFormat(datum.value, '%b')) : utcFormat(datum.value, '%-d')", "labelFontWeight": {"condition": {"test": "utcmonth(datum.value) == 0 && utcdate(datum.value) == 1", "value": "bold"}, "value": "normal"}}},
        "y": {"field": "hist", "type": "quantitative", "scale": {"domain": [-0.125, 1.502], "nice": false, "zero": false}, "axis": {"orient": "right", "values": [0, 1], "tickCount": 100, "format": ".3f", "grid": true, "labelPadding": 7, "labelOverlap": false, "title": null}},
        "color": {"field": "hc", "type": "nominal", "scale": {"domain": ["g", "gl", "r", "rl"], "range": ["#26a69a", "#b2dfdb", "#ff5252", "#ffcdd2"]}, "legend": null}
      }
    },
    {
      "data": {"name": "bars"},
      "mark": {"type": "line", "color": "#2962ff", "strokeWidth": 1.3},
      "encoding": {
        "x": {"field": "d", "type": "temporal"},
        "y": {"field": "m", "type": "quantitative"}
      }
    },
    {
      "data": {"name": "bars"},
      "mark": {"type": "line", "color": "#ff6d00", "strokeWidth": 1.3},
      "encoding": {
        "x": {"field": "d", "type": "temporal"},
        "y": {"field": "s", "type": "quantitative"}
      }
    },
    {"data": {"values": [{}]}, "mark": {"type": "text", "text": "MACD", "color": "#d1d4dc", "fontSize": 9.5, "align": "left", "baseline": "middle"},
     "encoding": {"x": {"datum": {"year":2024,"month":8,"date":20,"hours":10,"minutes":48,"utc":true}, "type": "temporal"}, "y": {"datum": 1.219}}},
    {"data": {"values": [{}]}, "mark": {"type": "text", "text": "0.353", "color": "#b2dfdb", "fontSize": 9.5, "align": "left", "baseline": "middle"},
     "encoding": {"x": {"datum": {"year":2024,"month":8,"date":25,"hours":18,"minutes":7,"utc":true}, "type": "temporal"}, "y": {"datum": 1.219}}},
    {"data": {"values": [{}]}, "mark": {"type": "text", "text": "1.338", "color": "#2962ff", "fontSize": 9.5, "align": "left", "baseline": "middle"},
     "encoding": {"x": {"datum": {"year":2024,"month":8,"date":30,"hours":13,"minutes":6,"utc":true}, "type": "temporal"}, "y": {"datum": 1.219}}},
    {"data": {"values": [{}]}, "mark": {"type": "text", "text": "0.985", "color": "#ff6d00", "fontSize": 9.5, "align": "left", "baseline": "middle"},
     "encoding": {"x": {"datum": {"year":2024,"month":9,"date":4,"hours":8,"minutes":4,"utc":true}, "type": "temporal"}, "y": {"datum": 1.219}}},
    {"data": {"values": [{}]}, "mark": {"type": "text", "text": "TV", "color": "#d1d4dc", "fontSize": 11, "fontWeight": "bold", "align": "left", "baseline": "middle"},
     "encoding": {"x": {"datum": {"year":2024,"month":8,"date":19,"hours":14,"minutes":18,"utc":true}, "type": "temporal"}, "y": {"datum": -0.927}}},
    {"data": {"values": [{}]}, "mark": {"type": "text", "text": "TradingView", "color": "#d1d4dc", "fontSize": 10, "align": "left", "baseline": "middle"},
     "encoding": {"x": {"datum": {"year":2024,"month":8,"date":22,"hours":12,"minutes":7,"utc":true}, "type": "temporal"}, "y": {"datum": -0.927}}}
  ]
}
]
}
